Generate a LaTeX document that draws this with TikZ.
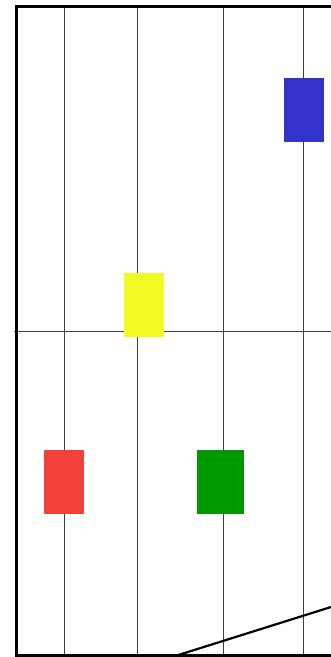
\documentclass[tikz,border=0pt]{standalone}
\definecolor{barblue}{RGB}{51, 51, 204}
\definecolor{baryellow}{RGB}{242, 250, 38}
\definecolor{barred}{RGB}{242, 64, 58}
\definecolor{bargreen}{RGB}{0, 153, 0}

\begin{document}
\begin{tikzpicture}[
    x=1pt, y=-1pt,
    bar/.style={draw=none, minimum width=40pt, minimum height=64pt, inner sep=0pt},
    grid/.style={black!75, line width=0.9pt},
    frame/.style={black, line width=3pt}
  ]
    \useasboundingbox (0,0) rectangle (331,657);
    % grid
    \foreach \gx in {64.7, 137.7, 223.3, 303.7}
      \draw[grid] (\gx,8) -- (\gx,655);
    \draw[grid] (14,331.3) -- (331,331.3);
    % bars
    \node[bar, fill=barblue] (blue) at (304,110) {};
    \node[bar, fill=baryellow] (yellow) at (144,305) {};
    \node[bar, fill=barred] (red) at (64,482) {};
    \node[bar, fill=bargreen, minimum width=47pt] (green) at (220.5,482) {};
    % frame
    \draw[frame] (331,6.5) -- (16.5,6.5) -- (16.5,655.5) -- (331,655.5);
    \draw[black, line width=2.2pt] (172,657) -- (331,607);
  \end{tikzpicture}
\end{document}
